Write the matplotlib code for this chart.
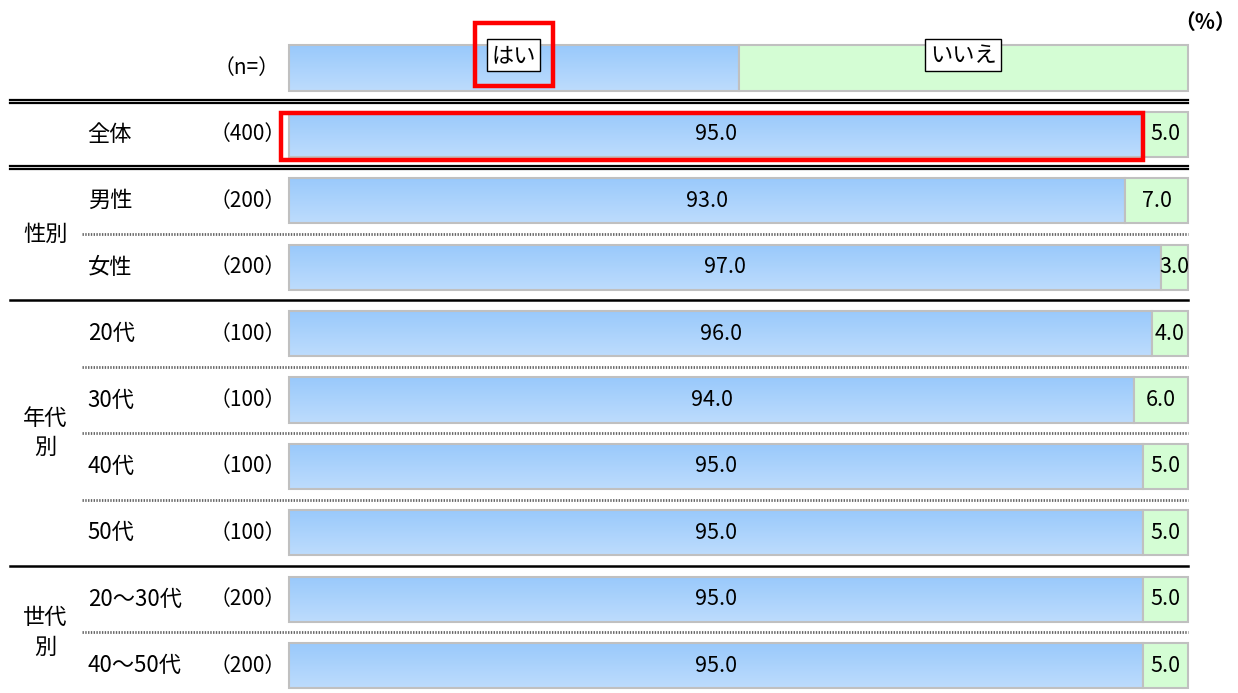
import numpy as np
import matplotlib
matplotlib.use('Agg')
import matplotlib.pyplot as plt
from matplotlib.patches import Rectangle

plt.rcParams['font.family'] = ['Noto Sans CJK JP', 'DejaVu Sans']

# データ
categories = ['全体', '男性', '女性', '20代', '30代', '40代', '50代', '20〜30代', '40〜50代']
n_labels = ['（400）', '（200）', '（200）', '（100）', '（100）', '（100）', '（100）', '（200）', '（200）']
yes_vals = [95.0, 93.0, 97.0, 96.0, 94.0, 95.0, 95.0, 95.0, 95.0]
no_vals = [5.0, 7.0, 3.0, 4.0, 6.0, 5.0, 5.0, 5.0, 5.0]
legend_labels = ['はい', 'いいえ']
groups = [('性別', 2.5), ('年代\n別', 5.5), ('世代\n別', 8.5)]

blue_top, blue_bot = '#99c9fb', '#bddcfd'
green = '#d4fdd4'
edge = '#c0c0c0'

fig = plt.figure(figsize=(12.38, 6.93), dpi=100)
ax = fig.add_axes([0, 0, 1, 1])
# 0..100% -> 289..1188 px
ppu = 899 / 100
ax.set_xlim(-289 / ppu, (1238 - 289) / ppu)
ax.set_ylim((693 - 68) / 66.4, -68 / 66.4)
ax.axis('off')

h = 0.68
grad = np.linspace(0, 1, 50).reshape(-1, 1)
cmap = matplotlib.colors.LinearSegmentedColormap.from_list('b', [blue_top, blue_bot])


def draw_row(y, yes, no):
    ax.imshow(grad, cmap=cmap, aspect='auto', extent=(0, yes, y + h / 2, y - h / 2), zorder=2)
    ax.add_patch(Rectangle((0, y - h / 2), yes, h, fill=False, ec=edge, lw=1.5, zorder=3))
    ax.add_patch(Rectangle((yes, y - h / 2), no, h, fc=green, ec=edge, lw=1.5, zorder=3))


# 凡例バー
draw_row(0, 50, 50)
ax.text(25, -0.19, legend_labels[0], ha='center', va='center', fontsize=16, zorder=5,
        bbox=dict(boxstyle='square,pad=0.2', fc='white', ec='black', lw=1))
ax.text(75, -0.19, legend_labels[1], ha='center', va='center', fontsize=16, zorder=5,
        bbox=dict(boxstyle='square,pad=0.2', fc='white', ec='black', lw=1))
ax.text(-1.1, 0, '（n=）', ha='right', va='center', fontsize=15)
ax.text(101.9, -0.69, '（%）', ha='center', va='center', fontsize=15, fontweight='bold')

for i, (cat, n, yv, nv) in enumerate(zip(categories, n_labels, yes_vals, no_vals)):
    y = i + 1
    draw_row(y, yv, nv)
    ax.text(yv / 2, y, f'{yv:.1f}', ha='center', va='center', fontsize=15.5, zorder=5)
    ax.text(yv + nv / 2, y, f'{nv:.1f}', ha='center', va='center', fontsize=15.5, zorder=5)
    ax.text(-22.4, y, cat, ha='left', va='center', fontsize=16)
    ax.text(-0.33, y, n, ha='right', va='center', fontsize=15)

for g, y in groups:
    ax.text(-27.1, y, g, ha='center', va='center', fontsize=16, linespacing=1.35)

# 区切り線
x0, x_dot = -279 / ppu, -207 / ppu
for y in [0.5, 1.5]:
    ax.plot([x0, 100], [y - 0.023, y - 0.023], color='black', lw=1.6)
    ax.plot([x0, 100], [y + 0.023, y + 0.023], color='black', lw=1.6)
for y in [3.5, 7.5]:
    ax.plot([x0, 100], [y, y], color='black', lw=1.8)
for y in [2.5, 4.5, 5.5, 6.5, 8.5]:
    ax.plot([x_dot, 100], [y, y], color='#666666', lw=2.0, linestyle=(0, (0.5, 0.5)))

# 赤枠
ax.add_patch(Rectangle((20.7, -0.678), 8.7, 0.949, fill=False, ec='red', lw=3.2, zorder=6))
ax.add_patch(Rectangle((-0.89, 0.678), 95.9, 0.708, fill=False, ec='red', lw=3.2, zorder=6))

fig.savefig('out.png', dpi=100)
